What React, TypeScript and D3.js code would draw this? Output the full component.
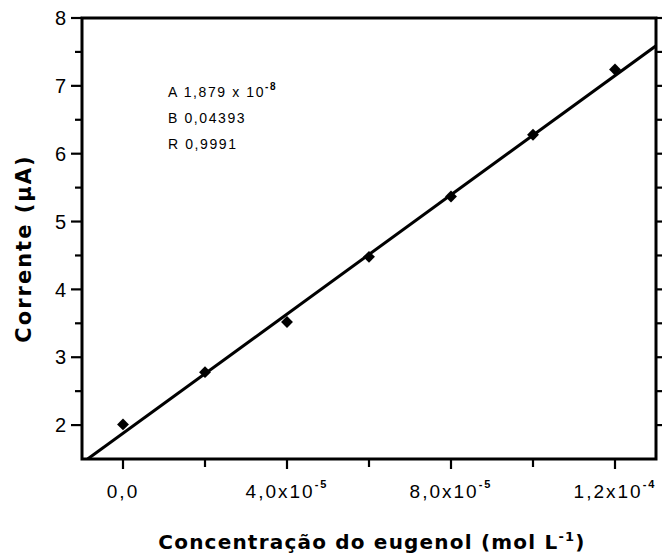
import React from "react";
import * as d3 from "d3";

const concentrations = [0, 2e-5, 4e-5, 6e-5, 8e-5, 1e-4, 1.2e-4];
const currents = [2.01, 2.78, 3.52, 4.48, 5.37, 6.28, 7.24];
const fitIntercept = 1.879;
const fitSlope = 43930;
const xLabelTicks = [0, 4e-5, 8e-5, 1.2e-4];
const xTickLabels = ["0,0", "4,0x10", "8,0x10", "1,2x10"];
const xTickExps = ["", "-5", "-5", "-4"];
const xMinorTicks = [2e-5, 6e-5, 1e-4];
const yLabelTicks = [2, 3, 4, 5, 6, 7, 8];
const yMinorTicks = [2.5, 3.5, 4.5, 5.5, 6.5, 7.5];
const fitLines = ["A 1,879 x 10", "B 0,04393", "R 0,9991"];

const W = 662, H = 556;
const left = 82, right = 656, top = 18, bottom = 459;

export default function App() {
  const x = d3.scaleLinear().domain([-1e-5, 1.3e-4]).range([left, right]);
  const y = d3.scaleLinear().domain([1.5, 8]).range([bottom, top]);
  const x0 = (1.5 - fitIntercept) / fitSlope;
  const x1 = 1.3e-4;
  const line = d3.line<number>().x((d) => x(d)).y((d) => y(fitIntercept + fitSlope * d));
  const tickFont = "'Liberation Sans', Arial, sans-serif";
  const titleFont = "'DejaVu Sans', Arial, sans-serif";
  return (
    <svg width={W} height={H} style={{ position: "absolute", left: 0, top: 0, background: "#fff" }}>
      <rect x={0} y={0} width={W} height={H} fill="#fff" />
      <defs>
        <clipPath id="plot">
          <rect x={left} y={top} width={right - left} height={bottom - top} />
        </clipPath>
      </defs>
      {/* fit line */}
      <path d={line([x0, x1]) || ""} stroke="#000" strokeWidth={3} fill="none" clipPath="url(#plot)" />
      {/* points */}
      {concentrations.map((c, i) => (
        <rect
          key={i}
          x={-4.2}
          y={-4.2}
          width={8.4}
          height={8.4}
          fill="#000"
          transform={`translate(${x(c)},${y(currents[i])}) rotate(45)`}
        />
      ))}
      {/* frame */}
      <rect x={left} y={top} width={right - left} height={bottom - top} fill="none" stroke="#000" strokeWidth={3} />
      {/* y ticks */}
      {yLabelTicks.map((t) => (
        <g key={"y" + t}>
          <line x1={left - 11} x2={left} y1={y(t)} y2={y(t)} stroke="#000" strokeWidth={2.2} />
          <line x1={right} x2={right + 11} y1={y(t)} y2={y(t)} stroke="#000" strokeWidth={2.2} />
        </g>
      ))}
      {yMinorTicks.map((t) => (
        <g key={"ym" + t}>
          <line x1={left - 7} x2={left} y1={y(t)} y2={y(t)} stroke="#000" strokeWidth={2.2} />
          <line x1={right} x2={right + 7} y1={y(t)} y2={y(t)} stroke="#000" strokeWidth={2.2} />
        </g>
      ))}
      {yLabelTicks.map((t) => (
        <text key={"yl" + t} x={left - 16} y={y(t)} dy="0.36em" textAnchor="end" fontFamily={tickFont} fontSize={20} fill="#000">
          {t}
        </text>
      ))}
      {/* x ticks */}
      {xLabelTicks.map((t) => (
        <line key={"x" + t} x1={x(t)} x2={x(t)} y1={bottom} y2={bottom + 10} stroke="#000" strokeWidth={2.2} />
      ))}
      {xMinorTicks.map((t) => (
        <line key={"xm" + t} x1={x(t)} x2={x(t)} y1={bottom} y2={bottom + 8} stroke="#000" strokeWidth={2.2} />
      ))}
      {xLabelTicks.map((t, i) => (
        <text key={"xl" + t} x={x(t)} y={bottom + 39} textAnchor="middle" fontFamily={tickFont} fontSize={19} fill="#000" letterSpacing={2}>
          {xTickLabels[i]}
          {xTickExps[i] && (
            <tspan dy={-10} fontSize={11} fontWeight="bold">{xTickExps[i]}</tspan>
          )}
        </text>
      ))}
      {/* annotation */}
      {fitLines.map((s, i) => (
        <text key={s} x={168} y={97 + i * 26} fontFamily={tickFont} fontSize={14} fill="#000" letterSpacing={1.6}>
          {s}
          {i === 0 && (
            <tspan dy={-7} fontSize={10} fontWeight="bold">-8</tspan>
          )}
        </text>
      ))}
      {/* axis titles */}
      <text
        transform={`translate(31,${(top + bottom) / 2 + 10}) rotate(-90)`}
        textAnchor="middle"
        fontFamily={titleFont}
        fontWeight="bold"
        fontSize={21}
        fill="#000"
        letterSpacing={2}
      >
        Corrente (µA)
      </text>
      <text
        x={372}
        y={549}
        textAnchor="middle"
        fontFamily={titleFont}
        fontWeight="bold"
        fontSize={20}
        fill="#000"
        letterSpacing={1.2}
      >
        Concentração do eugenol (mol L
        <tspan dy={-8} fontSize={13}>-1</tspan>
        <tspan dy={8}>)</tspan>
      </text>
    </svg>
  );
}
